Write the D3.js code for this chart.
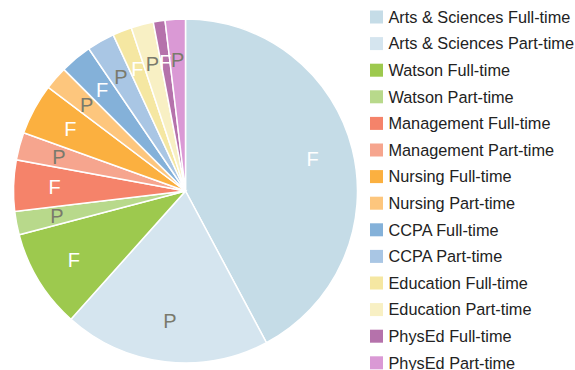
<!DOCTYPE html>
<html>
<head>
<meta charset="utf-8">
<script src="https://cdn.jsdelivr.net/npm/d3@7"></script>
<style>
  html, body { margin: 0; padding: 0; background: #fff; }
  svg { display: block; font-family: "Liberation Sans", Arial, sans-serif; }
</style>
</head>
<body>
<svg id="chart" width="575" height="370"></svg>
<script>
// Enrolment share by school and attendance status (percent)
const categories = [
  "Arts & Sciences Full-time", "Arts & Sciences Part-time",
  "Watson Full-time", "Watson Part-time",
  "Management Full-time", "Management Part-time",
  "Nursing Full-time", "Nursing Part-time",
  "CCPA Full-time", "CCPA Part-time",
  "Education Full-time", "Education Part-time",
  "PhysEd Full-time", "PhysEd Part-time"
];
const values = [42.2, 19.4, 9.3, 2.2, 4.8, 2.6, 4.8, 2.2, 3.0, 2.6, 1.8, 2.1, 1.1, 1.9];
const sliceLabels = ["F", "P", "F", "P", "F", "P", "F", "P", "F", "P", "F", "P", "F", "P"];
const colors = [
  "#c5dce7", "#d5e5ef",
  "#9dc94e", "#b8d98b",
  "#f5836a", "#f6a58e",
  "#fbb040", "#fdc67d",
  "#84b1d9", "#a9c6e4",
  "#f5e7a2", "#f8f0c4",
  "#b572ab", "#da99d5"
];

const data = categories.map((c, i) => ({ name: c, value: values[i], label: sliceLabels[i], color: colors[i] }));

const svg = d3.select("#chart");
const cx = 185.5, cy = 191, radius = 172;

const pie = d3.pie().sort(null).value(d => d.value);
const arcs = pie(data);
const arc = d3.arc().innerRadius(0).outerRadius(radius);
const labelArc = d3.arc().innerRadius(131).outerRadius(131);

const g = svg.append("g").attr("transform", `translate(${cx},${cy})`);

g.selectAll("path.slice")
  .data(arcs)
  .join("path")
  .attr("class", "slice")
  .attr("d", arc)
  .attr("fill", d => d.data.color)
  .attr("stroke", "#fff")
  .attr("stroke-width", 1.5);

g.selectAll("text.slice-label")
  .data(arcs)
  .join("text")
  .attr("class", "slice-label")
  .attr("transform", d => `translate(${labelArc.centroid(d)})`)
  .attr("text-anchor", "middle")
  .attr("dy", "0.36em")
  .attr("font-size", 20)
  .attr("fill", d => d.data.label === "F" ? "#ffffff" : "#7a7a6c")
  .text(d => d.data.label);

// Legend
const legend = svg.append("g").attr("transform", "translate(370,17)");
const rowStep = 26.6;
const rows = legend.selectAll("g.row")
  .data(data)
  .join("g")
  .attr("class", "row")
  .attr("transform", (d, i) => `translate(0,${i * rowStep})`);

rows.append("rect")
  .attr("x", 0).attr("y", -6.5)
  .attr("width", 13).attr("height", 13)
  .attr("fill", d => d.color);

rows.append("text")
  .attr("x", 18.5)
  .attr("dy", "0.36em")
  .attr("font-size", 16.3)
  .attr("fill", "#222")
  .text(d => d.name);
</script>
</body>
</html>
